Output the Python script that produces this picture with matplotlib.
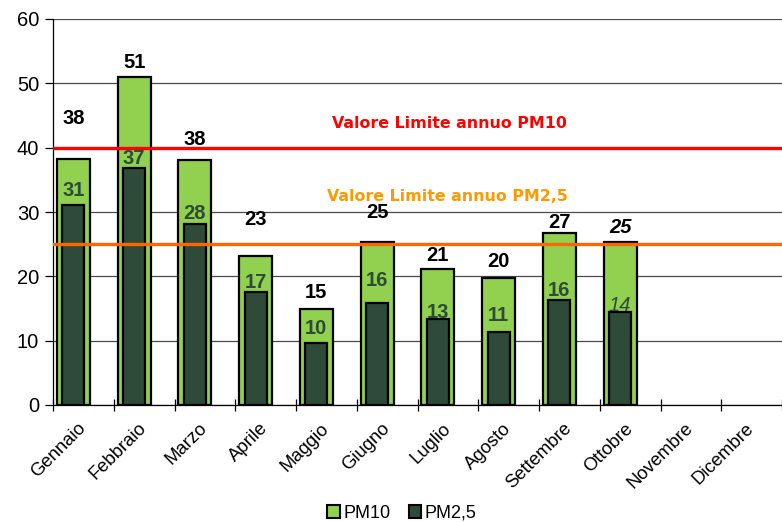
import matplotlib
matplotlib.use("Agg")
import matplotlib.pyplot as plt
from matplotlib.patches import Patch
import numpy as np

months = ["Gennaio", "Febbraio", "Marzo", "Aprile", "Maggio", "Giugno",
          "Luglio", "Agosto", "Settembre", "Ottobre", "Novembre", "Dicembre"]
pm10 = [38.3, 51.0, 38.1, 23.2, 15.0, 25.4, 21.1, 19.8, 26.8, 25.4]
pm25 = [31.1, 36.8, 28.2, 17.5, 9.6, 15.8, 13.3, 11.3, 16.3, 14.4]
pm10_labels = ["38", "51", "38", "23", "15", "25", "21", "20", "27", "25"]
pm25_labels = ["31", "37", "28", "17", "10", "16", "13", "11", "16", "14"]
limit_pm10 = 40
limit_pm25 = 25
limit_pm10_text = "Valore Limite annuo PM10"
limit_pm25_text = "Valore Limite annuo PM2,5"
yticks = [0, 10, 20, 30, 40, 50, 60]

# label nudges (pixels above bar top) - style only
pm10_nudge = [40, 14, 20, 36, 16, 29, 14, 16, 10, 14]
pm25_nudge = [14, 10, 10, 10, 15, 23, 7, 17, 10, 7]
italic_idx = [9]

light = "#92D050"
dark = "#2E4B39"

fig = plt.figure(figsize=(7.82, 5.22), dpi=100)
ax = fig.add_axes([53/782, 117/522, 1 - 53/782, (405 - 19)/522])

n = len(months)
x = np.arange(len(pm10)) + 0.335
ax.bar(x, pm10, width=0.54, color=light, edgecolor="black", linewidth=1.6, zorder=3)
ax.bar(x, pm25, width=0.36, color=dark, edgecolor="black", linewidth=1.6, zorder=4)

ax.axhline(limit_pm10, color="#FF0000", lw=2.4, zorder=5)
ax.axhline(limit_pm25, color="#FF6600", lw=2.4, zorder=5)

ax.set_xlim(0, n)
ax.set_ylim(0, 60)
ax.set_yticks(yticks)
ax.yaxis.grid(True, color="#4a4a4a", lw=0.9, zorder=0)
ax.set_axisbelow(True)
ax.set_xticks(np.arange(n + 1))
ax.set_xticklabels([])
ax.set_xticks(np.arange(n) + 0.5, minor=True)
ax.set_xticklabels(months, minor=True, rotation=45, ha="right", va="center",
                   rotation_mode="anchor", fontsize=13.3, family="Liberation Sans")
ax.tick_params(axis="x", which="minor", length=0, pad=15)
ax.tick_params(axis="x", which="major", direction="inout", length=8, width=0.9)
ax.tick_params(axis="y", direction="out", length=6, width=0.9, labelsize=14.5, pad=4)
for lab in ax.get_yticklabels():
    lab.set_family("Liberation Sans")
for s in ["top", "right"]:
    ax.spines[s].set_visible(False)
ax.spines["left"].set_linewidth(0.9)
ax.spines["bottom"].set_linewidth(0.9)

px2pt = 72 / 100
for i in range(len(pm10)):
    it = "italic" if i in italic_idx else "normal"
    ax.annotate(pm10_labels[i], (x[i], pm10[i]), xytext=(0, pm10_nudge[i] * px2pt),
                textcoords="offset points", ha="center", va="center",
                fontsize=14.5, fontweight="bold", style=it, color="black",
                family="Liberation Sans", zorder=6)
    ax.annotate(pm25_labels[i], (x[i], pm25[i]), xytext=(0, pm25_nudge[i] * px2pt),
                textcoords="offset points", ha="center", va="center",
                fontsize=14.5, fontweight="normal" if i in italic_idx else "bold",
                style=it, color=dark, family="Liberation Sans", zorder=6)

fig.text(449.5/782, 1 - 123/522, limit_pm10_text, ha="center", va="center",
         color="#FF0000", fontsize=11.4, fontweight="bold", family="DejaVu Sans")
fig.text(447.5/782, 1 - 196/522, limit_pm25_text, ha="center", va="center",
         color="#FF9900", fontsize=11.4, fontweight="bold", family="DejaVu Sans")

handles = [Patch(facecolor=light, edgecolor="black", linewidth=1.5),
           Patch(facecolor=dark, edgecolor="black", linewidth=1.5)]
fig.legend(handles, ["PM10", "PM2,5"], loc="center", bbox_to_anchor=(402/782, 1 - 513/522),
           ncol=2, frameon=False, handlelength=0.7, handleheight=0.7,
           handletextpad=0.2, columnspacing=1.0, prop={"family": "Liberation Sans", "size": 13})

fig.savefig("out.png", dpi=100)
